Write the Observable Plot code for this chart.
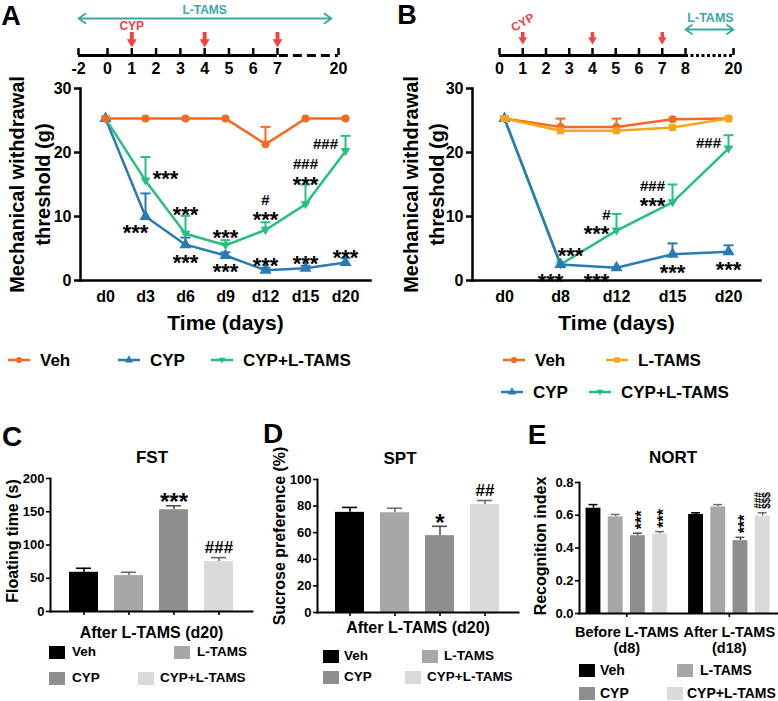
<!DOCTYPE html>
<html>
<head>
<meta charset="utf-8">
<script src="https://cdn.jsdelivr.net/npm/d3@7"></script>
<script src="https://cdn.jsdelivr.net/npm/@observablehq/plot@0.6"></script>
<style>
  html, body { margin: 0; padding: 0; background: #fff; }
  #root { position: relative; width: 778px; height: 701px; overflow: hidden; background: #fff;
          font-family: "Liberation Sans", Arial, Helvetica, sans-serif; font-weight: bold; color: #000; }
  .abs { position: absolute; }
  .t { position: absolute; white-space: nowrap; line-height: 1; font-weight: bold; }
</style>
</head>
<body>
<div id="root"></div>
<script>
// ================= DATA =================
// Panel A (mechanical threshold, L-TAMS from day -2)
const daysA = ["d0","d3","d6","d9","d12","d15","d20"];
const vehA      = [25.3, 25.3, 25.3, 25.3, 21.3, 25.3, 25.3];
const vehAErr   = [null, null, null, null, 24.0, null, null];
const cypA      = [25.3, 10.0, 5.6, 3.9, 1.6, 1.9, 2.8];
const cypAErr   = [null, 13.6, 6.7, 4.4, 2.0, 2.3, 3.5];
const comboA    = [25.3, 15.6, 7.3, 5.5, 7.9, 11.9, 20.2];
const comboAErr = [null, 19.3, 10.1, 6.3, 9.1, 15.0, 22.6];
const annotA = [
  {day:"d3",  y:16.7, text:"***", side:"r"},
  {day:"d3",  y:8.3,  text:"***", side:"cl"},
  {day:"d6",  y:11.1, text:"***", side:"c"},
  {day:"d6",  y:3.6,  text:"***", side:"c"},
  {day:"d9",  y:7.5,  text:"***", side:"c"},
  {day:"d9",  y:2.2,  text:"***", side:"c"},
  {day:"d12", y:10.3, text:"***", side:"c"},
  {day:"d12", y:12.5, text:"#",   side:"c"},
  {day:"d12", y:3.1,  text:"***", side:"c"},
  {day:"d15", y:15.8, text:"***", side:"c"},
  {day:"d15", y:18.1, text:"###", side:"c"},
  {day:"d15", y:3.4,  text:"***", side:"c"},
  {day:"d20", y:21.3, text:"###", side:"l"},
  {day:"d20", y:4.4,  text:"***", side:"c"}
];

// Panel B (L-TAMS from day 8)
const daysB = ["d0","d8","d12","d15","d20"];
const vehB      = [25.3, 24.0, 24.0, 25.2, 25.3];
const vehBErr   = [null, 25.3, 25.3, null, null];
const tamsB     = [25.3, 23.4, 23.4, 23.9, 25.3];
const tamsBErr  = [null, null, null, null, null];
const cypB      = [25.3, 2.5, 2.0, 4.1, 4.5];
const cypBErr   = [null, null, null, 5.8, 5.5];
const comboB    = [25.3, 2.5, 7.8, 12.2, 20.6];
const comboBErr = [null, null, 10.4, 15.0, 22.7];
const annotB = [
  {day:"d8",  y:4.7,  text:"***", side:"cr"},
  {day:"d8",  y:0.6,  text:"***", side:"cl"},
  {day:"d12", y:0.6,  text:"***", side:"l"},
  {day:"d12", y:8.1,  text:"***", side:"l"},
  {day:"d12", y:10.2, text:"#",   side:"cl"},
  {day:"d15", y:12.5, text:"***", side:"l"},
  {day:"d15", y:14.8, text:"###", side:"l"},
  {day:"d15", y:2.0,  text:"***", side:"c"},
  {day:"d20", y:21.4, text:"###", side:"l"},
  {day:"d20", y:2.5,  text:"***", side:"c"}
];

// Timelines
const timelineA = [-2, 0, 1, 2, 3, 4, 5, 6, 7, 20];
const cypInjectA = [1, 4, 7];
const tamsPeriodA = [-2, 18.5];
const timelineB = [0, 1, 2, 3, 4, 5, 6, 7, 8, 20];
const cypInjectB = [1, 4, 7];
const tamsPeriodB = [8, 20];

// Bar panels
const groups = ["Veh", "L-TAMS", "CYP", "CYP+L-TAMS"];
const fstMean = [59, 54, 153, 75];
const fstErr  = [65, 59, 159, 81];
const fstSig  = ["", "", "***", "###"];
const sptMean = [75.3, 75.0, 57.8, 81.2];
const sptErr  = [79.0, 78.4, 64.8, 84.2];
const sptSig  = ["", "", "*", "##"];
const nortPhases = ["Before L-TAMS\n(d8)", "After L-TAMS\n(d18)"];
const nortBefore    = [0.643, 0.59, 0.475, 0.485];
const nortBeforeErr = [0.665, 0.605, 0.49, 0.50];
const nortAfter     = [0.605, 0.65, 0.445, 0.595];
const nortAfterErr  = [0.615, 0.665, 0.465, 0.615];
const nortBeforeSig = ["", "", "***", "***"];
const nortAfterSig  = ["", "", "***", "###"];
const nortAfterSig2 = ["", "", "", "$$$"];

// ================= STYLE =================
const FONT = '"Liberation Sans", Arial, Helvetica, sans-serif';
const svgStyle = {background: "transparent", overflow: "visible", fontFamily: FONT, fontWeight: "bold", color: "#000"};
const RED = "#EF4444", TEAL = "#3AA8A6";
const triDown = {draw(ctx, size) { const r = Math.sqrt(size / Math.PI);
  ctx.moveTo(-r * 1.1, -r * 0.7); ctx.lineTo(r * 1.1, -r * 0.7); ctx.lineTo(0, r * 1.1); ctx.closePath(); }};
const capSymbol = {draw(ctx, size) { const w = Math.sqrt(size / Math.PI); ctx.moveTo(-w, 0); ctx.lineTo(w, 0); }};
const STYLE = {
  "Veh":        {color: "#F36A21", symbol: "circle",   r: 4,   key: d3.symbolCircle},
  "L-TAMS":     {color: "#F9A51A", symbol: "square",   r: 4,   key: d3.symbolSquare},
  "CYP":        {color: "#2A7AB3", symbol: "triangle", r: 4.5, key: d3.symbolTriangle},
  "CYP+L-TAMS": {color: "#25BF7E", symbol: triDown,    r: 4.5, key: triDown}
};
const BARCOLOR = {"Veh": "#000000", "L-TAMS": "#A7A7A7", "CYP": "#8E8E8E", "CYP+L-TAMS": "#DADADA"};
const ERRCOLOR = {"Veh": "#000000", "L-TAMS": "#6E6E6E", "CYP": "#4E4E4E", "CYP+L-TAMS": "#6A6A6A"};

// ================= HELPERS =================
const root = document.getElementById("root");
function put(node, left, top) {
  const d = document.createElement("div");
  d.className = "abs"; d.style.left = left + "px"; d.style.top = top + "px";
  d.appendChild(node); root.appendChild(d); return d;
}
function txt(s, cx, cy, size, {color = "#000", anchor = "middle"} = {}) {
  const d = document.createElement("div");
  d.className = "t"; d.textContent = s;
  d.style.left = cx + "px"; d.style.top = cy + "px"; d.style.fontSize = size + "px"; d.style.color = color;
  d.style.transform = `translate(${anchor === "middle" ? "-50%" : "0"}, -50%)`;
  root.appendChild(d); return d;
}
function lineKey(name, x, y, fs) {
  const st = STYLE[name];
  const svg = d3.create("svg").attr("width", 24).attr("height", 12).style("display", "block");
  svg.append("line").attr("x1", 1).attr("x2", 23).attr("y1", 6).attr("y2", 6)
     .attr("stroke", st.color).attr("stroke-width", 2.5);
  svg.append("path").attr("d", d3.symbol(st.key, 30)()).attr("transform", "translate(12,6)").attr("fill", st.color);
  put(svg.node(), x, y - 6);
  txt(name, x + 33, y, fs, {anchor: "start"});
}
function swatchKey(name, sx, tx, y, fs) {
  const d = document.createElement("div");
  d.className = "abs"; d.style.left = sx + "px"; d.style.top = (y - 6.5) + "px";
  d.style.width = "16px"; d.style.height = "13px"; d.style.background = BARCOLOR[name];
  root.appendChild(d);
  txt(name, tx, y, fs, {anchor: "start"});
}

const SIDE_DX = {c: 0, l: -20, r: 20, cl: -10, cr: 10};
function annotMarks(annots, starFs, hashFs) {
  const out = [];
  for (const side of Object.keys(SIDE_DX)) {
    const stars = annots.filter(a => a.side === side && a.text.includes("*"));
    const hashes = annots.filter(a => a.side === side && !a.text.includes("*"));
    if (stars.length) out.push(Plot.text(stars, {x: "day", y: "y", text: "text", dx: SIDE_DX[side], dy: 0.25 * starFs, fontSize: starFs, fontWeight: "bold"}));
    if (hashes.length) out.push(Plot.text(hashes, {x: "day", y: "y", text: "text", dx: SIDE_DX[side], fontSize: hashFs, fontWeight: "bold"}));
  }
  return out;
}

function linePlot({days, series, annots, padding, width, marginLeft, marginRight, labelDx}) {
  const marks = [];
  for (const s of series) {
    const st = STYLE[s.name];
    const rows = days.map((d, i) => ({day: d, v: s.values[i], err: s.err[i]}));
    const errRows = rows.filter(r => r.err != null);
    marks.push(Plot.ruleX(errRows, {x: "day", y1: "v", y2: "err", stroke: st.color, strokeWidth: 2}));
    marks.push(Plot.dot(errRows, {x: "day", y: "err", symbol: capSymbol, r: 5, stroke: st.color, fill: "none", strokeWidth: 2}));
    marks.push(Plot.line(rows, {x: "day", y: "v", stroke: st.color, strokeWidth: 2.5}));
    marks.push(Plot.dot(rows, {x: "day", y: "v", symbol: st.symbol, r: st.r, fill: st.color, stroke: "none"}));
  }
  return Plot.plot({
    width, height: 268, marginLeft, marginRight, marginTop: 16, marginBottom: 60,
    style: svgStyle,
    x: {type: "point", domain: days, padding},
    y: {domain: [0, 30]},
    marks: [
      Plot.frame({anchor: "left", strokeWidth: 2.5}),
      Plot.frame({anchor: "bottom", strokeWidth: 2.5}),
      Plot.axisY({ticks: [0, 10, 20, 30], tickSize: 6, tickPadding: 3, strokeWidth: 2.5, fontSize: 16, fontWeight: "bold", label: null}),
      Plot.axisX({tickSize: 0, tickPadding: 10, fontSize: 16, fontWeight: "bold", label: null}),
      ...marks,
      ...annotMarks(annots, 22, 15),
      Plot.text(["Time (days)"], {text: d => d, frameAnchor: "bottom", textAnchor: "middle", lineAnchor: "middle", dy: 43, fontSize: 21, fontWeight: "bold"}),
      Plot.text(["Mechanical withdrawal\nthreshold (g)"], {text: d => d, frameAnchor: "left", textAnchor: "middle", lineAnchor: "middle", rotate: -90, dx: labelDx, fontSize: 20, lineHeight: 1.3, fontWeight: "bold"})
    ]
  });
}

function barPlot({means, errs, sigs, yDomain, yTicks, width, marginLeft, marginRight, marginTop, marginBottom, paddingOuter, xTitle, xTitleDy, yTitle, yTitleDx, yTitleDy}) {
  const rows = groups.map((g, i) => ({g, v: means[i], err: errs[i], sig: sigs[i], fill: BARCOLOR[g], ecol: ERRCOLOR[g]}));
  const stars = rows.filter(d => d.sig.includes("*"));
  const hashes = rows.filter(d => d.sig && !d.sig.includes("*"));
  return Plot.plot({
    width, height: 180, marginLeft, marginRight, marginTop, marginBottom, style: svgStyle,
    x: {type: "band", domain: groups, paddingInner: 0.35, paddingOuter},
    y: {domain: yDomain},
    color: {type: "identity"},
    marks: [
      Plot.ruleX(rows, {x: "g", y1: "v", y2: "err", stroke: "ecol", strokeWidth: 1.6}),
      Plot.tickY(rows, {x: "g", y: "err", stroke: "ecol", strokeWidth: 1.6, insetLeft: 7, insetRight: 7}),
      Plot.barY(rows, {x: "g", y: "v", fill: "fill"}),
      Plot.frame({anchor: "left", strokeWidth: 2}),
      Plot.frame({anchor: "bottom", strokeWidth: 2}),
      Plot.axisY({ticks: yTicks, tickSize: 4, tickPadding: 2, strokeWidth: 1.6, fontSize: 13, fontWeight: "bold", label: null}),
      Plot.axisX({tickSize: 4, tickFormat: () => "", strokeWidth: 1.6, label: null}),
      Plot.text(stars, {x: "g", y: "err", text: "sig", dy: -9 + 0.25 * 24, fontSize: 24, fontWeight: "bold"}),
      Plot.text(hashes, {x: "g", y: "err", text: "sig", dy: -10, fontSize: 17, fontWeight: "bold"}),
      Plot.text([xTitle], {text: d => d, frameAnchor: "bottom", textAnchor: "middle", lineAnchor: "middle", dy: xTitleDy, fontSize: 16, fontWeight: "bold"}),
      Plot.text([yTitle], {text: d => d, frameAnchor: "left", textAnchor: "middle", lineAnchor: "middle", rotate: -90, dx: yTitleDx, dy: yTitleDy, fontSize: 16, fontWeight: "bold"})
    ]
  });
}

// ================= PANEL A =================
put(Plot.plot({
  width: 390, height: 80, margin: 0, style: svgStyle, axis: null,
  x: {type: "linear", domain: [-2, 0, 7, 20], range: [78, 107, 277, 338]},
  y: {domain: [0, 10], range: [55, 5]},
  marks: [
    Plot.ruleY([0], {x1: timelineA[0], x2: 7, strokeWidth: 3}),
    Plot.ruleY([0], {x1: 7.4, x2: 20, strokeWidth: 3, strokeDasharray: "9,5"}),
    Plot.ruleX(timelineA, {x: d => d, y1: 0, y2: 1.4, strokeWidth: 2.5}),
    Plot.text(timelineA, {x: d => d, y: 0, dy: 13, text: d => String(d), fontSize: 16, fontWeight: "bold"}),
    Plot.ruleX(cypInjectA, {x: d => d, y1: 2.8, y2: 4.6, stroke: RED, strokeWidth: 4}),
    Plot.dot(cypInjectA, {x: d => d, y: 2.6, symbol: triDown, r: 4.5, fill: RED, stroke: "none"}),
    Plot.text(["CYP"], {x: cypInjectA[0], y: 5.8, text: d => d, fill: RED, fontSize: 12, fontWeight: "bold"}),
    Plot.arrow([{a: 4, b: tamsPeriodA[0]}, {a: 4, b: tamsPeriodA[1]}], {x1: "a", x2: "b", y1: 7.4, y2: 7.4, stroke: TEAL, strokeWidth: 1.8, headLength: 7, headAngle: 70}),
    Plot.text(["L-TAMS"], {x: 4, y: 9, text: d => d, fill: TEAL, fontSize: 12, fontWeight: "bold"})
  ]
}), 0, 0);

put(linePlot({
  days: daysA, padding: 0.57, width: 390, marginLeft: 80, marginRight: 20, labelDx: -52,
  annots: annotA,
  series: [
    {name: "CYP", values: cypA, err: cypAErr},
    {name: "CYP+L-TAMS", values: comboA, err: comboAErr},
    {name: "Veh", values: vehA, err: vehAErr}
  ]
}), 0, 72);

// ================= PANEL B =================
put(Plot.plot({
  width: 388, height: 80, margin: 0, style: svgStyle, axis: null,
  x: {type: "linear", domain: [0, 8, 20], range: [109, 295, 343]},
  y: {domain: [0, 10], range: [55, 5]},
  marks: [
    Plot.ruleY([0], {x1: 0, x2: 8, strokeWidth: 3}),
    Plot.ruleY([0], {x1: 8, x2: 20, strokeWidth: 3, strokeDasharray: "3,2.5"}),
    Plot.ruleX(timelineB, {x: d => d, y1: 0, y2: 1.4, strokeWidth: 2.5}),
    Plot.text(timelineB, {x: d => d, y: 0, dy: 13, text: d => String(d), fontSize: 16, fontWeight: "bold"}),
    Plot.ruleX(cypInjectB, {x: d => d, y1: 3.3, y2: 4.6, stroke: RED, strokeWidth: 3.5}),
    Plot.dot(cypInjectB, {x: d => d, y: 3.1, symbol: triDown, r: 4, fill: RED, stroke: "none"}),
    Plot.text(["CYP"], {x: cypInjectB[0], y: 6.6, text: d => d, rotate: -30, fill: RED, fontSize: 12, fontWeight: "bold"}),
    Plot.arrow([{a: 14, b: tamsPeriodB[0]}, {a: 14, b: tamsPeriodB[1]}], {x1: "a", x2: "b", y1: 5.2, y2: 5.2, stroke: TEAL, strokeWidth: 1.8, headLength: 7, headAngle: 70}),
    Plot.text(["L-TAMS"], {x: 14.25, y: 7.6, text: d => d, fill: TEAL, fontSize: 12.5, fontWeight: "bold"})
  ]
}), 390, 0);

put(linePlot({
  days: daysB, padding: 0.53, width: 388, marginLeft: 82, marginRight: 18, labelDx: -50,
  annots: annotB,
  series: [
    {name: "CYP+L-TAMS", values: comboB, err: comboBErr},
    {name: "CYP", values: cypB, err: cypBErr},
    {name: "Veh", values: vehB, err: vehBErr},
    {name: "L-TAMS", values: tamsB, err: tamsBErr}
  ]
}), 390, 72);

// ================= PANEL C =================
put(barPlot({
  means: fstMean, errs: fstErr, sigs: fstSig, yDomain: [0, 200], yTicks: [0, 50, 100, 150, 200],
  width: 258, marginLeft: 50, marginRight: 6, marginTop: 12, marginBottom: 35, paddingOuter: 0.39,
  xTitle: "After L-TAMS (d20)", xTitleDy: 21, yTitle: "Floating time (s)", yTitleDx: -38, yTitleDy: -4
}), 0, 466);

// ================= PANEL D =================
put(barPlot({
  means: sptMean, errs: sptErr, sigs: sptSig, yDomain: [0, 100], yTicks: [0, 20, 40, 60, 80, 100],
  width: 258, marginLeft: 55, marginRight: 2, marginTop: 13, marginBottom: 34, paddingOuter: 0.37,
  xTitle: "After L-TAMS (d20)", xTitleDy: 15, yTitle: "Sucrose preference (%)", yTitleDx: -38, yTitleDy: -10
}), 262, 466);

// ================= PANEL E =================
(function () {
  const stride = 4.62, half = 0.335;
  const rows = [];
  const phaseVals = [[nortBefore, nortBeforeErr, nortBeforeSig, groups.map(() => "")], [nortAfter, nortAfterErr, nortAfterSig, nortAfterSig2]];
  phaseVals.forEach(([vals, errs, sig, sig2], gi) => {
    groups.forEach((g, ci) => rows.push({phase: nortPhases[gi], g, pos: gi * stride + ci, v: vals[ci], err: errs[ci], sig: sig[ci], sig2: sig2[ci], fill: BARCOLOR[g], ecol: ERRCOLOR[g]}));
  });
  const centers = nortPhases.map((p, gi) => gi * stride + (groups.length - 1) / 2);
  const centerLabel = new Map(centers.map((c, i) => [c, nortPhases[i]]));
  const stars = rows.filter(d => d.sig.includes("*"));
  const hashes = rows.filter(d => d.sig && !d.sig.includes("*"));
  const dollars = rows.filter(d => d.sig2);
  put(Plot.plot({
    width: 258, height: 195, marginLeft: 59, marginRight: 1, marginTop: 16, marginBottom: 48, style: svgStyle,
    x: {type: "linear", domain: [-0.63, stride + groups.length - 1 + 0.67]},
    y: {domain: [0, 0.8]},
    color: {type: "identity"},
    marks: [
      Plot.ruleX(rows, {x: "pos", y1: "v", y2: "err", stroke: "ecol", strokeWidth: 1.5}),
      Plot.ruleY(rows, {y: "err", x1: d => d.pos - 0.2, x2: d => d.pos + 0.2, stroke: "ecol", strokeWidth: 1.5}),
      Plot.rect(rows, {x1: d => d.pos - half, x2: d => d.pos + half, y1: 0, y2: "v", fill: "fill"}),
      Plot.frame({anchor: "left", strokeWidth: 2}),
      Plot.frame({anchor: "bottom", strokeWidth: 2}),
      Plot.axisY({ticks: [0, 0.2, 0.4, 0.6, 0.8], tickFormat: d3.format(".1f"), tickSize: 4, tickPadding: 2, strokeWidth: 1.6, fontSize: 13, fontWeight: "bold", label: null}),
      Plot.axisX({ticks: centers, tickFormat: d => centerLabel.get(d), tickSize: 4, tickPadding: 9, strokeWidth: 1.6, fontSize: 14.5, lineHeight: 1.05, fontWeight: "bold", label: null}),
      Plot.text(stars, {x: "pos", y: "err", text: "sig", rotate: -90, textAnchor: "start", dy: -4, dx: 4, fontSize: 16, fontWeight: "bold"}),
      Plot.text(hashes, {x: "pos", y: "err", text: "sig", rotate: -90, textAnchor: "start", dy: -4, dx: -4, fontSize: 10, fontWeight: "bold"}),
      Plot.text(dollars, {x: "pos", y: "err", text: "sig2", rotate: -90, textAnchor: "start", dy: -4, dx: 4.5, fontSize: 10, fontWeight: "bold"}),
      Plot.text(["Recognition index"], {text: d => d, frameAnchor: "left", textAnchor: "middle", lineAnchor: "middle", rotate: -90, dx: -39, dy: -2, fontSize: 16, fontWeight: "bold"})
    ]
  }), 520, 466);
})();

// ================= LABELS & LEGENDS =================
txt("A", 11, 16, 27); txt("B", 407, 15, 27);
txt("C", 12, 437, 28); txt("D", 273, 434, 28); txt("E", 537, 435, 28);
txt("FST", 152, 457, 17); txt("SPT", 400, 458, 17); txt("NORT", 673, 457, 17);

lineKey("Veh", 7, 360, 17); lineKey("CYP", 117, 360, 17); lineKey("CYP+L-TAMS", 210, 360, 17);
lineKey("Veh", 502, 360, 17); lineKey("L-TAMS", 605, 360, 17);
lineKey("CYP", 500, 392, 17); lineKey("CYP+L-TAMS", 588, 392, 17);

swatchKey("Veh", 49, 72, 652, 13.5); swatchKey("L-TAMS", 174, 197, 652, 13.5);
swatchKey("CYP", 49, 72, 678, 13.5); swatchKey("CYP+L-TAMS", 138, 160, 678, 13.5);
swatchKey("Veh", 323, 344, 656, 13.5); swatchKey("L-TAMS", 422, 444, 656, 13.5);
swatchKey("CYP", 323, 344, 677, 13.5); swatchKey("CYP+L-TAMS", 405, 427, 677, 13.5);
swatchKey("Veh", 579, 600, 670, 14); swatchKey("L-TAMS", 677, 700, 670, 14);
swatchKey("CYP", 579, 600, 693, 14); swatchKey("CYP+L-TAMS", 667, 687, 693, 14);
</script>
</body>
</html>
